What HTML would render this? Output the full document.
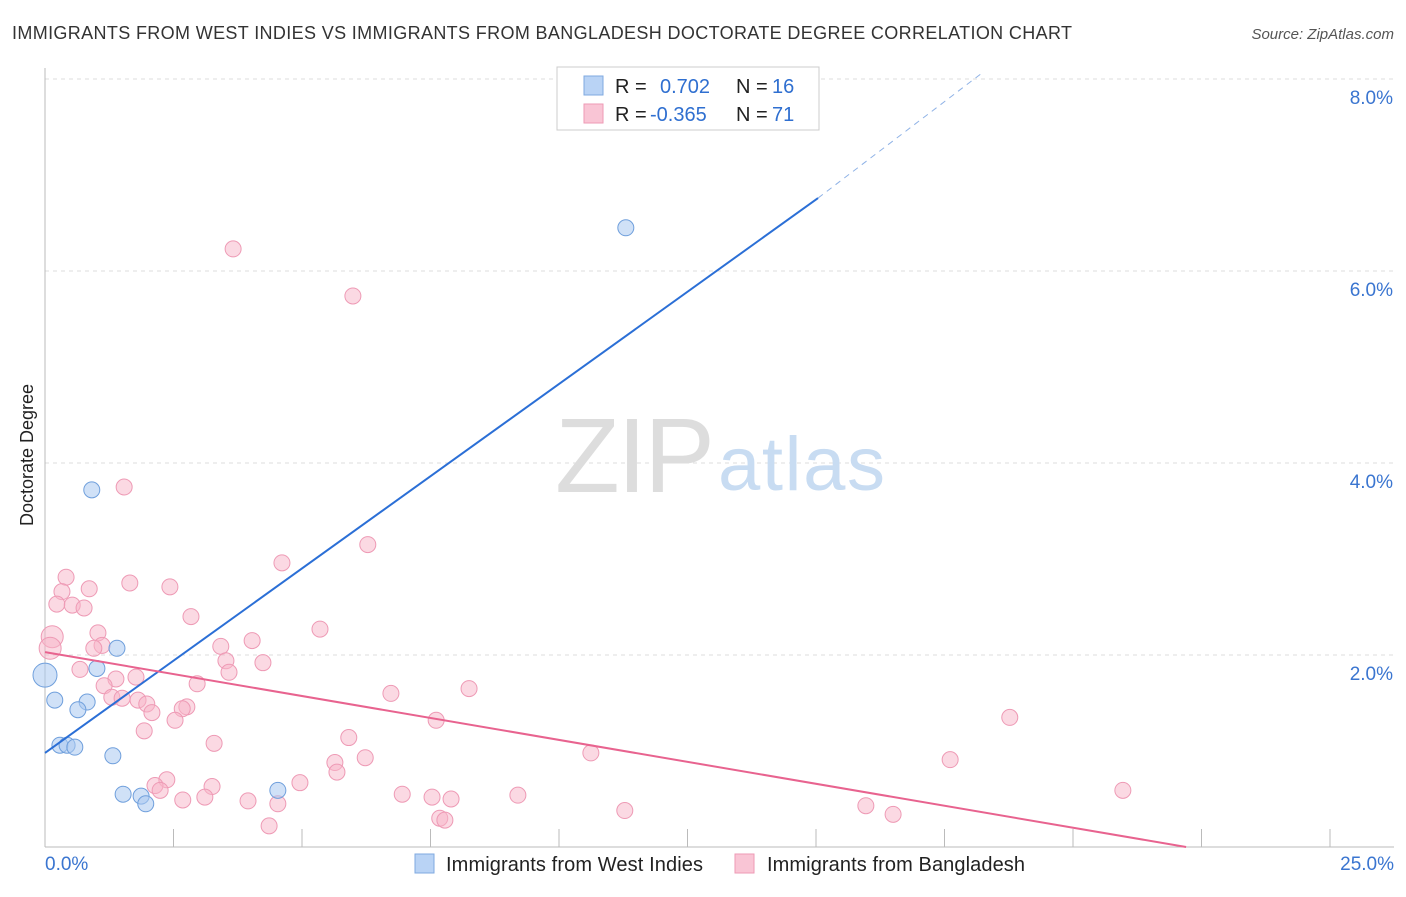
<!DOCTYPE html>
<html><head><meta charset="utf-8"><style>
body{margin:0;background:#fff;font-family:"Liberation Sans",sans-serif}
svg text{font-family:"Liberation Sans",sans-serif}
</style></head><body>
<svg id="chart" width="1406" height="892">
<text x="12" y="39" font-size="18" fill="#333" textLength="1060">IMMIGRANTS FROM WEST INDIES VS IMMIGRANTS FROM BANGLADESH DOCTORATE DEGREE CORRELATION CHART</text>
<text x="1394" y="39" font-size="15" fill="#555" font-style="italic" text-anchor="end">Source: ZipAtlas.com</text>
<text x="33" y="455" font-size="18" fill="#222" text-anchor="middle" transform="rotate(-90 33 455)">Doctorate Degree</text>
<g id="grid"></g>
<text x="555" y="492" font-size="106" fill="#ddd" font-family="Liberation Serif" textLength="160">ZIP</text>
<text x="718" y="490" font-size="76" fill="#c8dcf2" textLength="167">atlas</text>
<g id="marks"></g>
<g>
<rect x="557" y="67" width="262" height="63" fill="#fff" stroke="#ccc"/>
<rect x="584" y="76" width="19" height="19" fill="#b9d3f5" stroke="#7fa9e0"/>
<rect x="584" y="104" width="19" height="19" fill="#f9c5d5" stroke="#ee9ab5"/>
<text x="615" y="93" font-size="20" fill="#222">R = </text><text x="660" y="93" font-size="20" fill="#2f6fd0">0.702</text>
<text x="736" y="93" font-size="20" fill="#222">N = </text><text x="772" y="93" font-size="20" fill="#2f6fd0">16</text>
<text x="615" y="121" font-size="20" fill="#222">R = </text><text x="650" y="121" font-size="20" fill="#2f6fd0">-0.365</text>
<text x="736" y="121" font-size="20" fill="#222">N = </text><text x="772" y="121" font-size="20" fill="#2f6fd0">71</text>
</g>
<g>
<rect x="415" y="854" width="19" height="19" fill="#b9d3f5" stroke="#7fa9e0"/>
<text x="446" y="871" font-size="20" fill="#222" textLength="257">Immigrants from West Indies</text>
<rect x="735" y="854" width="19" height="19" fill="#f9c5d5" stroke="#ee9ab5"/>
<text x="767" y="871" font-size="20" fill="#222" textLength="258">Immigrants from Bangladesh</text>
</g>
</svg>
<script>
const yTicks=[2,4,6,8];
const yTickLabels=["2.0%","4.0%","6.0%","8.0%"];
const xTicks=[2.5,5,7.5,10,12.5,15,17.5,20,22.5,25];
const xEndLabels=["0.0%","25.0%"];
const blueX=[11.30,0.91,1.40,1.01,0.0,0.19,0.82,0.64,0.29,0.43,0.58,1.32,4.53,1.52,1.87,1.96];
const blueY=[6.45,3.72,2.07,1.86,1.79,1.53,1.51,1.43,1.06,1.06,1.04,0.95,0.59,0.55,0.53,0.45];
const pinkX=[3.66,5.99,1.54,6.28,4.61,0.41,1.65,2.43,0.86,0.33,0.23,0.53,0.76,2.84,5.35,1.03,0.14,4.03,1.11,0.95,3.42,0.10,3.52,4.24,0.68,3.58,1.77,1.38,2.96,1.15,8.25,6.73,1.30,1.50,1.81,1.98,2.76,2.67,2.08,2.53,7.61,18.77,1.93,5.91,3.29,10.62,6.23,5.64,17.61,5.68,2.37,2.14,4.96,3.25,2.24,20.97,9.20,6.95,7.53,7.90,2.68,3.11,3.95,4.53,15.97,11.28,16.50,7.68,7.78,4.36];
const pinkY=[6.23,5.74,3.75,3.15,2.96,2.81,2.75,2.71,2.69,2.66,2.53,2.52,2.49,2.40,2.27,2.23,2.19,2.15,2.10,2.07,2.09,2.07,1.94,1.92,1.85,1.82,1.77,1.75,1.70,1.68,1.65,1.60,1.56,1.55,1.53,1.49,1.46,1.44,1.40,1.32,1.32,1.35,1.21,1.14,1.08,0.98,0.93,0.88,0.91,0.78,0.70,0.64,0.67,0.63,0.59,0.59,0.54,0.55,0.52,0.50,0.49,0.52,0.48,0.45,0.43,0.38,0.34,0.30,0.28,0.22];
const blueFitX=[0,15.04,18.2];
const blueFitY=[0.98,6.76,8.05];
const pinkFitX=[0,22.2];
const pinkFitY=[2.03,0];
const sx=v=>45+v*51.4, sy=v=>847-v*96;
const NS="http://www.w3.org/2000/svg";
const grid=document.getElementById('grid'), marks=document.getElementById('marks');
function mk(p,tag,a){const e=document.createElementNS(NS,tag);for(const k in a)e.setAttribute(k,a[k]);p.appendChild(e);return e;}
yTicks.forEach((t,i)=>{
 const l=mk(grid,'line',{x1:45,x2:1394,y1:sy(t),y2:sy(t),stroke:'#ddd','stroke-dasharray':'4 4'});
 
 
 const tx=mk(grid,'text',{x:1393,y:sy(t)+25,'font-size':19,fill:'#3a75d0','text-anchor':'end'});
 tx.textContent=yTickLabels[i];
 
 
});
const ax=mk(grid,'line',{x1:45,x2:45,y1:68,y2:847,stroke:'#bbb'});


const bx=mk(grid,'line',{x1:45,x2:1394,y1:847,y2:847,stroke:'#bbb'});


xTicks.forEach(t=>{
 const l=mk(grid,'line',{x1:sx(t),x2:sx(t),y1:829,y2:847,stroke:'#bbb'});
 
 
});
[[0,'start',45],[25,'end',1394]].forEach((d,i)=>{
 const tx=mk(grid,'text',{x:d[2],y:870,'font-size':19,fill:'#3a75d0','text-anchor':d[1]});
 tx.textContent=xEndLabels[i];
 
 
});
pinkX.forEach((x,i)=>{
 const c=mk(marks,'circle',{cx:sx(x),cy:sy(pinkY[i]),r:(x<0.2?11:8),fill:'rgba(248,180,200,0.5)',stroke:'#ee9ab5','stroke-width':1});
 
 
});
blueX.forEach((x,i)=>{
 const c=mk(marks,'circle',{cx:sx(x),cy:sy(blueY[i]),r:(x<0.05?12:8),fill:'rgba(170,200,240,0.55)',stroke:'#6f9fdc','stroke-width':1});
 
 
});
const bl=mk(marks,'line',{x1:sx(blueFitX[0]),y1:sy(blueFitY[0]),x2:sx(blueFitX[1]),y2:sy(blueFitY[1]),stroke:'#2b6fd6','stroke-width':2});


const bd=mk(marks,'line',{x1:sx(blueFitX[1]),y1:sy(blueFitY[1]),x2:sx(blueFitX[2]),y2:sy(blueFitY[2]),stroke:'#8fb2e6','stroke-width':1,'stroke-dasharray':'6 5'});


const pl=mk(marks,'line',{x1:sx(pinkFitX[0]),y1:sy(pinkFitY[0]),x2:sx(pinkFitX[1]),y2:sy(pinkFitY[1]),stroke:'#e8638f','stroke-width':2});


</script>
</body></html>
